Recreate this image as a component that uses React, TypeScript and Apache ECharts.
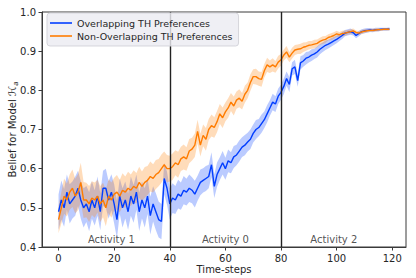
import React, { useEffect, useRef } from "react";
import * as echarts from "echarts";

const seriesNames = ["Overlapping TH Preferences", "Non-Overlapping TH Preferences"];
const seriesColors = ["#023eff", "#ff7c00"];

// Mean belief, overlapping preferences (t = 0..119)
const overlapMean = [
  0.49, 0.52, 0.50, 0.54, 0.51, 0.52, 0.53, 0.55, 0.52, 0.50,
  0.51, 0.49, 0.52, 0.50, 0.53, 0.49, 0.55, 0.55, 0.52, 0.54,
  0.51, 0.47, 0.53, 0.50, 0.52, 0.49, 0.53, 0.51, 0.54, 0.49,
  0.52, 0.50, 0.53, 0.48, 0.51, 0.49, 0.47, 0.465, 0.575, 0.55,
  0.51, 0.525, 0.52, 0.535, 0.53, 0.545, 0.54, 0.55, 0.545, 0.535,
  0.55, 0.565, 0.57, 0.575, 0.58, 0.61, 0.555, 0.585, 0.60, 0.615,
  0.60, 0.62, 0.615, 0.63, 0.635, 0.645, 0.655, 0.66, 0.668, 0.675,
  0.69, 0.70, 0.705, 0.715, 0.725, 0.74, 0.755, 0.77, 0.765, 0.785,
  0.795, 0.81, 0.83, 0.815, 0.855, 0.86, 0.825, 0.87, 0.875, 0.882,
  0.885, 0.89, 0.893, 0.898, 0.905, 0.91, 0.915, 0.918, 0.922, 0.926,
  0.93, 0.935, 0.94, 0.946, 0.948, 0.95, 0.947, 0.94, 0.945, 0.95,
  0.952, 0.953, 0.954, 0.953, 0.955, 0.955, 0.956, 0.956, 0.956, 0.957,
];

// Half-width of the shaded band, overlapping preferences
const overlapSpread = [
  0.045, 0.05, 0.048, 0.045, 0.05, 0.047, 0.05, 0.045, 0.048, 0.05,
  0.046, 0.05, 0.048, 0.045, 0.05, 0.047, 0.045, 0.05, 0.048, 0.046,
  0.05, 0.048, 0.045, 0.05, 0.047, 0.046, 0.05, 0.048, 0.045, 0.049,
  0.047, 0.05, 0.046, 0.048, 0.045, 0.047, 0.046, 0.045, 0.04, 0.042,
  0.04, 0.038, 0.036, 0.037, 0.035, 0.036, 0.034, 0.035, 0.033, 0.034,
  0.032, 0.033, 0.031, 0.032, 0.03, 0.032, 0.03, 0.031, 0.029, 0.03,
  0.028, 0.029, 0.027, 0.028, 0.026, 0.027, 0.025, 0.026, 0.024, 0.025,
  0.023, 0.024, 0.022, 0.023, 0.021, 0.022, 0.02, 0.021, 0.02, 0.02,
  0.019, 0.02, 0.018, 0.019, 0.017, 0.018, 0.016, 0.017, 0.015, 0.016,
  0.014, 0.015, 0.013, 0.014, 0.013, 0.012, 0.012, 0.011, 0.011, 0.01,
  0.01, 0.009, 0.009, 0.008, 0.008, 0.008, 0.007, 0.007, 0.007, 0.006,
  0.006, 0.006, 0.005, 0.005, 0.005, 0.005, 0.004, 0.004, 0.004, 0.004,
];

// Mean belief, non-overlapping preferences
const nonOverlapMean = [
  0.47, 0.50, 0.53, 0.52, 0.54, 0.55, 0.53, 0.54, 0.565, 0.52,
  0.52, 0.51, 0.525, 0.52, 0.53, 0.51, 0.52, 0.50, 0.53, 0.52,
  0.535, 0.54, 0.53, 0.545, 0.54, 0.55, 0.545, 0.555, 0.55, 0.565,
  0.555, 0.565, 0.57, 0.58, 0.575, 0.585, 0.59, 0.60, 0.61, 0.60,
  0.60, 0.605, 0.615, 0.61, 0.625, 0.63, 0.625, 0.645, 0.65, 0.66,
  0.695, 0.66, 0.685, 0.675, 0.70, 0.71, 0.705, 0.72, 0.74, 0.73,
  0.745, 0.755, 0.77, 0.76, 0.775, 0.78, 0.772, 0.79, 0.80, 0.82,
  0.835, 0.835, 0.83, 0.828, 0.85, 0.865, 0.86, 0.865, 0.86, 0.872,
  0.878, 0.89, 0.898, 0.885, 0.895, 0.903, 0.905, 0.906, 0.91, 0.912,
  0.915, 0.916, 0.918, 0.92, 0.925, 0.928, 0.93, 0.935, 0.937, 0.94,
  0.944, 0.942, 0.945, 0.946, 0.948, 0.95, 0.952, 0.948, 0.946, 0.949,
  0.951, 0.952, 0.953, 0.953, 0.954, 0.955, 0.955, 0.956, 0.956, 0.956,
];

// Half-width of the shaded band, non-overlapping preferences
const nonOverlapSpread = [
  0.035, 0.04, 0.045, 0.042, 0.045, 0.048, 0.044, 0.046, 0.05, 0.046,
  0.044, 0.046, 0.043, 0.045, 0.042, 0.046, 0.044, 0.047, 0.043, 0.045,
  0.042, 0.044, 0.041, 0.043, 0.04, 0.042, 0.04, 0.041, 0.039, 0.04,
  0.038, 0.039, 0.037, 0.038, 0.036, 0.037, 0.035, 0.036, 0.034, 0.035,
  0.033, 0.034, 0.032, 0.033, 0.031, 0.032, 0.03, 0.031, 0.029, 0.03,
  0.03, 0.029, 0.028, 0.029, 0.027, 0.028, 0.026, 0.027, 0.025, 0.026,
  0.024, 0.025, 0.023, 0.024, 0.022, 0.023, 0.021, 0.022, 0.02, 0.021,
  0.019, 0.02, 0.018, 0.019, 0.017, 0.018, 0.016, 0.017, 0.015, 0.016,
  0.015, 0.014, 0.015, 0.013, 0.014, 0.013, 0.012, 0.013, 0.012, 0.011,
  0.011, 0.01, 0.011, 0.01, 0.009, 0.01, 0.009, 0.008, 0.009, 0.008,
  0.008, 0.007, 0.007, 0.007, 0.006, 0.006, 0.006, 0.005, 0.005, 0.005,
  0.005, 0.004, 0.004, 0.004, 0.004, 0.004, 0.003, 0.003, 0.003, 0.003,
];

const xTicks = [0, 20, 40, 60, 80, 100, 120];
const phaseBoundaries = [40, 80];
const activityNames = ["Activity 1", "Activity 0", "Activity 2"];
const activityX = [19, 60, 99];
const activityY = [0.42, 0.42, 0.42];

const TEXT = "#262626";
const AXIS = "#3a3a3a";
const FONT = "DejaVu Sans";

function bandSeries(mean: number[], spread: number[], color: string, name: string) {
  return {
    type: "custom",
    name,
    silent: true,
    z: 1,
    data: [[0, mean[0]]],
    encode: { x: 0, y: 1 },
    renderItem: (params: any, api: any) => {
      const pts: number[][] = [];
      for (let i = 0; i < mean.length; i++) pts.push(api.coord([i, mean[i] + spread[i]]));
      for (let i = mean.length - 1; i >= 0; i--) pts.push(api.coord([i, mean[i] - spread[i]]));
      return {
        type: "polygon",
        shape: { points: pts },
        style: { fill: color, opacity: 0.27 },
      };
    },
  };
}

export default function App() {
  const ref = useRef<HTMLDivElement>(null);
  useEffect(() => {
    if (!ref.current) return;
    const chart = echarts.init(ref.current, undefined, { renderer: "svg" });
    const means = [overlapMean, nonOverlapMean];
    const option: any = {
      animation: false,
      backgroundColor: "#ffffff",
      textStyle: { fontFamily: FONT, color: TEXT },
      grid: {
        left: 42,
        top: 12,
        right: 10,
        bottom: 31,
        show: true,
        borderColor: AXIS,
        borderWidth: 1,
        backgroundColor: "transparent",
        containLabel: false,
        outerBoundsMode: "none",
      },
      legend: {
        data: seriesNames.map((n) => ({ name: n, icon: "rect" })),
        orient: "vertical",
        left: 47,
        top: 13,
        itemWidth: 22,
        itemHeight: 1.6,
        itemGap: 1,
        padding: [4, 6, 4, 3],
        backgroundColor: "rgba(236,236,242,0.82)",
        borderColor: "rgba(210,210,216,0.9)",
        borderWidth: 1,
        borderRadius: 3,
        textStyle: { fontFamily: FONT, fontSize: 9.5, color: TEXT, lineHeight: 12 },
        z: 10,
      },
      xAxis: {
        type: "value",
        min: -5.95,
        max: 124.95,
        name: "Time-steps",
        nameLocation: "middle",
        nameGap: 17,
        nameMoveOverlap: false,
        nameTextStyle: { fontFamily: FONT, fontSize: 10, color: TEXT },
        axisLine: { show: true, onZero: false, lineStyle: { color: AXIS, width: 1 } },
        axisTick: { show: true, length: 3.5, customValues: xTicks, lineStyle: { color: AXIS } },
        axisLabel: {
          customValues: xTicks,
          margin: 6,
          fontFamily: FONT,
          fontSize: 10,
          color: TEXT,
        },
        splitLine: { show: false },
      },
      yAxis: {
        type: "value",
        min: 0.4,
        max: 1.0,
        interval: 0.1,
        name: "{a|Belief for Model }{h|ℋ}{s|a}",
        nameLocation: "middle",
        nameGap: 23,
        nameMoveOverlap: false,
        nameRotate: 90,
        nameTextStyle: {
          fontFamily: FONT,
          fontSize: 10,
          color: TEXT,
          rich: {
            a: { fontFamily: FONT, fontSize: 10, color: TEXT, lineHeight: 14 },
            h: { fontFamily: FONT, fontSize: 10.5, fontStyle: "italic", color: TEXT, lineHeight: 14 },
            s: { fontFamily: FONT, fontSize: 7, fontStyle: "italic", color: TEXT, lineHeight: 14, verticalAlign: "bottom", padding: [4, 0, 0, 0] },
          },
        },
        axisLine: { show: true, onZero: false, lineStyle: { color: AXIS, width: 1 } },
        axisTick: { show: true, length: 3.5, lineStyle: { color: AXIS } },
        axisLabel: {
          margin: 6,
          fontFamily: FONT,
          fontSize: 10,
          color: TEXT,
          formatter: (v: number) => v.toFixed(1),
        },
        splitLine: { show: false },
      },
      series: [
        bandSeries(overlapMean, overlapSpread, seriesColors[0], "band0"),
        {
          type: "line",
          name: seriesNames[0],
          data: means[0].map((v, i) => [i, v]),
          symbol: "none",
          z: 3,
          lineStyle: { color: seriesColors[0], width: 1.4 },
          itemStyle: { color: seriesColors[0] },
          markLine: {
            silent: true,
            symbol: ["none", "none"],
            label: { show: false },
            lineStyle: { color: "#222222", width: 1.4, type: "solid" },
            data: phaseBoundaries.map((x) => ({ xAxis: x })),
          },
        },
        bandSeries(nonOverlapMean, nonOverlapSpread, seriesColors[1], "band1"),
        {
          type: "line",
          name: seriesNames[1],
          data: means[1].map((v, i) => [i, v]),
          symbol: "none",
          z: 4,
          lineStyle: { color: seriesColors[1], width: 1.4 },
          itemStyle: { color: seriesColors[1] },
        },
        {
          type: "scatter",
          name: "activities",
          silent: true,
          symbolSize: 0,
          data: activityNames.map((n, i) => [activityX[i], activityY[i], n]),
          label: {
            show: true,
            position: "inside",
            formatter: (p: any) => p.data[2],
            fontFamily: FONT,
            fontSize: 10,
            color: TEXT,
          },
          z: 5,
        },
      ],
    };
    chart.setOption(option);
    return () => chart.dispose();
  }, []);
  return (
    <div
      ref={ref}
      style={{ position: "fixed", left: 0, top: 0, width: 416, height: 278 }}
    />
  );
}
